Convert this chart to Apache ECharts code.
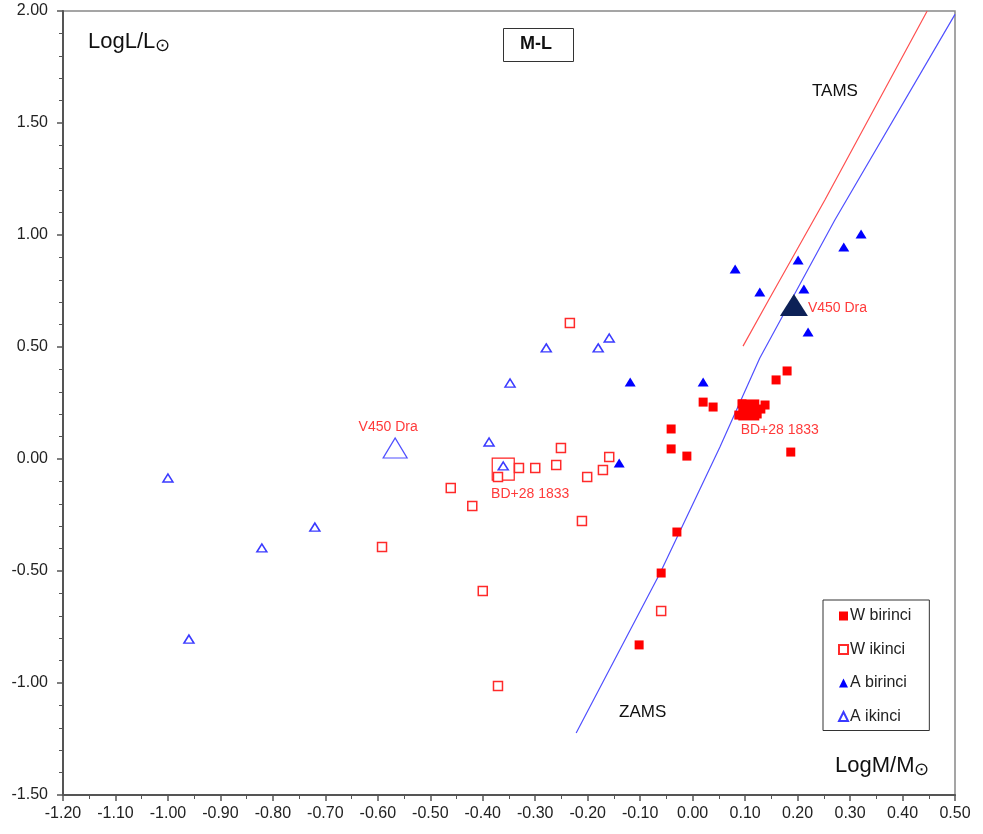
<!DOCTYPE html>
<html>
<head>
<meta charset="utf-8">
<script src="https://cdn.jsdelivr.net/npm/echarts@6/dist/echarts.min.js"></script>
<style>html,body{margin:0;padding:0;background:#fff}#c{width:983px;height:834px}</style>
</head>
<body>
<div id="c"></div>
<script>
// W birinci (filled red squares)
const wBirinciX = [0.020, 0.039, -0.041, -0.041, -0.011, -0.030, -0.060, -0.102, 0.159, 0.180, 0.187, 0.138, 0.088, 0.123, 0.130, 0.094];
const wBirinciY = [0.254, 0.232, 0.134, 0.045, 0.013, -0.326, -0.509, -0.830, 0.353, 0.393, 0.031, 0.241, 0.196, 0.201, 0.223, 0.246];
// W ikinci (open red squares)
const wIkinciX = [-0.234, -0.251, -0.159, -0.331, -0.300, -0.260, -0.171, -0.201, -0.371, -0.461, -0.420, -0.211, -0.592, -0.400, -0.060, -0.371];
const wIkinciY = [0.607, 0.049, 0.009, -0.040, -0.040, -0.027, -0.049, -0.080, -0.080, -0.129, -0.210, -0.277, -0.393, -0.589, -0.679, -1.013];
// A birinci (filled blue triangles)
const aBirinciX = [0.081, 0.128, 0.201, 0.212, 0.288, 0.321, 0.220, -0.119, -0.140, 0.020];
const aBirinciY = [0.848, 0.746, 0.888, 0.759, 0.946, 1.004, 0.567, 0.344, -0.018, 0.344];
// A ikinci (open blue triangles)
const aIkinciX = [-0.279, -0.180, -0.159, -0.348, -0.388, -0.361, -1.000, -0.720, -0.821, -0.960];
const aIkinciY = [0.496, 0.496, 0.540, 0.339, 0.076, -0.031, -0.085, -0.304, -0.397, -0.804];
// Highlighted systems
const bdPrimary = [0.107, 0.219];
const bdSecondary = [-0.361, -0.045];
const v450Primary = [0.193, 0.688];
const v450Secondary = [-0.567, 0.049];
// ZAMS / TAMS
const zamsX = [-0.222, -0.177, -0.062, 0.052, 0.128, 0.271, 0.500];
const zamsY = [-1.223, -1.022, -0.509, 0.054, 0.451, 1.067, 1.985];
const tamsX = [0.096, 0.147, 0.252, 0.447];
const tamsY = [0.504, 0.719, 1.156, 2.000];

const zip = (a, b) => a.map((v, i) => [v, b[i]]);
const FONT = 'Liberation Sans, Arial, sans-serif';
const chart = echarts.init(document.getElementById('c'));
const labelRed = '#ff3a3a';

chart.setOption({
  backgroundColor: '#fff',
  animation: false,
  textStyle: { fontFamily: FONT },
  grid: { left: 63, right: 28, top: 11, bottom: 39, show: true, borderColor: '#888', borderWidth: 1.5 },
  xAxis: {
    type: 'value', min: -1.2, max: 0.5, interval: 0.1,
    axisLine: { onZero: false, lineStyle: { color: '#555', width: 2 } },
    axisTick: { show: true, length: 6, lineStyle: { color: '#555', width: 1.5 } },
    minorTick: { show: true, splitNumber: 2, length: 4, lineStyle: { color: '#555' } },
    splitLine: { show: false },
    axisLabel: { fontSize: 16, color: '#222', margin: 11, fontFamily: FONT, formatter: v => v.toFixed(2) }
  },
  yAxis: {
    type: 'value', min: -1.5, max: 2.0, interval: 0.5,
    axisLine: { onZero: false, lineStyle: { color: '#555', width: 2 } },
    axisTick: { show: true, length: 6, lineStyle: { color: '#555', width: 1.5 } },
    minorTick: { show: true, splitNumber: 5, length: 4, lineStyle: { color: '#555' } },
    splitLine: { show: false },
    axisLabel: { fontSize: 16, color: '#222', margin: 15, fontFamily: FONT, formatter: v => v.toFixed(2) }
  },
  legend: {
    orient: 'vertical', left: 823, top: 600,
    data: ['W birinci', 'W ikinci', 'A birinci', 'A ikinci'],
    borderColor: '#333', borderWidth: 1, padding: [8, 18, 6, 15], itemGap: 17.5,
    itemWidth: 9, itemHeight: 9,
    textStyle: { fontSize: 16, color: '#222', fontFamily: FONT, padding: [0, 0, 0, -3] }
  },
  series: [
    { name: 'ZAMS', type: 'line', data: zip(zamsX, zamsY), showSymbol: false,
      lineStyle: { color: '#5050ff', width: 1.2 }, z: 1, silent: true },
    { name: 'TAMS', type: 'line', data: zip(tamsX, tamsY), showSymbol: false,
      lineStyle: { color: '#ff5050', width: 1.2 }, z: 1, silent: true },
    { name: 'W birinci', type: 'scatter', symbol: 'rect', symbolSize: 9,
      itemStyle: { color: '#ff0000', opacity: 1 }, data: zip(wBirinciX, wBirinciY), z: 3 },
    { name: 'W ikinci', type: 'scatter', symbol: 'rect', symbolSize: 9,
      itemStyle: { color: '#fff', borderColor: '#ff2a2a', borderWidth: 1.5, opacity: 1 }, data: zip(wIkinciX, wIkinciY), z: 3 },
    { name: 'A birinci', type: 'scatter', symbol: 'triangle', symbolSize: [11, 9],
      itemStyle: { color: '#0000ff', opacity: 1 }, data: zip(aBirinciX, aBirinciY), z: 3 },
    { name: 'A ikinci', type: 'scatter', symbol: 'triangle', symbolSize: [10, 8],
      itemStyle: { color: '#fff', borderColor: '#3a3aff', borderWidth: 1.5, opacity: 1 }, data: zip(aIkinciX, aIkinciY), z: 3 },
    { name: 'BD primary', type: 'scatter', symbol: 'rect', symbolSize: 21,
      itemStyle: { color: '#ff0000', opacity: 1 }, data: [bdPrimary], z: 4,
      label: { show: true, formatter: 'BD+28 1833', position: 'bottom', distance: 3, offset: [31, 0],
        color: labelRed, fontSize: 14, fontFamily: FONT } },
    { name: 'BD secondary', type: 'scatter', symbol: 'rect', symbolSize: 22,
      itemStyle: { color: 'rgba(0,0,0,0)', borderColor: '#ff2020', borderWidth: 1.2, opacity: 1 }, data: [bdSecondary], z: 2,
      label: { show: true, formatter: 'BD+28 1833', position: 'bottom', distance: 6, offset: [27, 0],
        color: labelRed, fontSize: 14, fontFamily: FONT } },
    { name: 'V450 primary', type: 'scatter', symbol: 'triangle', symbolSize: [28, 22],
      itemStyle: { color: '#0d2157', opacity: 1 }, data: [v450Primary], z: 4,
      label: { show: true, formatter: 'V450 Dra', position: 'right', distance: 0, offset: [0, 3],
        color: labelRed, fontSize: 14, fontFamily: FONT } },
    { name: 'V450 secondary', type: 'scatter', symbol: 'triangle', symbolSize: [24, 20],
      itemStyle: { color: '#fff', borderColor: '#5050ff', borderWidth: 1.2, opacity: 1 }, data: [v450Secondary], z: 2,
      label: { show: true, formatter: 'V450 Dra', position: 'top', distance: 3, offset: [-7, 0],
        color: labelRed, fontSize: 14, fontFamily: FONT } }
  ],
  graphic: [
    { type: 'text', left: 88, top: 31, style: {
        text: '{a|LogL/L}{b|⊙}', fill: '#111', font: '22px ' + FONT,
        rich: { a: { fontSize: 22, fontFamily: FONT, fill: '#111' }, b: { fontSize: 18, fontFamily: FONT, verticalAlign: 'bottom', padding: [9, 0, 0, 0], fill: '#111' } } } },
    { type: 'text', left: 835, top: 755, style: {
        text: '{a|LogM/M}{b|⊙}', fill: '#111', font: '22px ' + FONT,
        rich: { a: { fontSize: 22, fontFamily: FONT, fill: '#111' }, b: { fontSize: 18, fontFamily: FONT, verticalAlign: 'bottom', padding: [9, 0, 0, 0], fill: '#111' } } } },
    { type: 'rect', left: 503, top: 28, shape: { width: 70, height: 33 },
      style: { fill: '#fff', stroke: '#333', lineWidth: 1 } },
    { type: 'text', left: 520, top: 35, style: { text: 'M-L', fill: '#111', font: 'bold 18px ' + FONT } },
    { type: 'text', left: 812, top: 83, style: { text: 'TAMS', fill: '#111', font: '17px ' + FONT } },
    { type: 'text', left: 619, top: 704, style: { text: 'ZAMS', fill: '#111', font: '17px ' + FONT } }
  ]
});
</script>
</body>
</html>
